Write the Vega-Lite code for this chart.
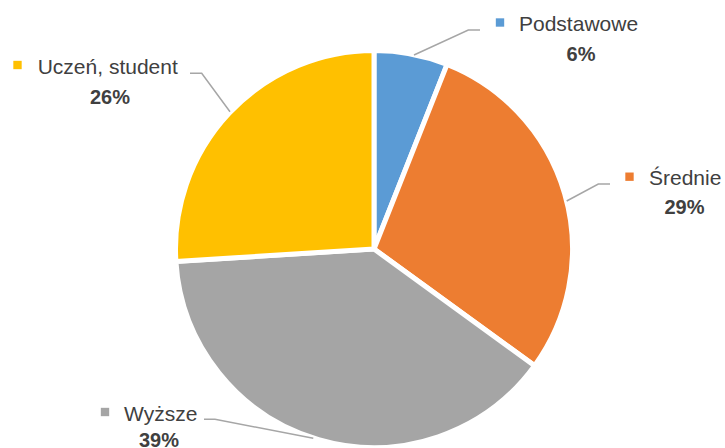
{
  "$schema": "https://vega.github.io/schema/vega-lite/v6.json",
  "width": 700,
  "height": 398,
  "autosize": {"type": "none"},
  "padding": {"left": 24, "top": 50, "right": 1, "bottom": 0},
  "background": "white",
  "config": {"view": {"stroke": null}},
  "datasets": {
    "slices": [
      {"category": "Podstawowe", "value": 6, "idx": 1},
      {"category": "Średnie", "value": 29, "idx": 2},
      {"category": "Wyższe", "value": 39, "idx": 3},
      {"category": "Uczeń, student", "value": 26, "idx": 4}
    ],
    "labels": [
      {"category": "Podstawowe", "pct": "6%", "sx": 126, "sy": 226.5, "tx": 145, "ty": 218.3, "px": 207, "py": 188.3},
      {"category": "Średnie", "pct": "29%", "sx": 255.5, "sy": 72.3, "tx": 275, "ty": 63.6, "px": 310.5, "py": 35},
      {"category": "Wyższe", "pct": "39%", "sx": -269, "sy": -163, "tx": -250, "ty": -171.7, "px": -215, "py": -197.5},
      {"category": "Uczeń, student", "pct": "26%", "sx": -356.5, "sy": 184, "tx": -336.3, "ty": 174.7, "px": -264, "py": 145}
    ],
    "leaders": [
      {"category": "Podstawowe", "seq": 1, "lx": 106, "ly": 219},
      {"category": "Podstawowe", "seq": 2, "lx": 94.3, "ly": 219},
      {"category": "Podstawowe", "seq": 3, "lx": 40, "ly": 194},
      {"category": "Średnie", "seq": 1, "lx": 236, "ly": 65},
      {"category": "Średnie", "seq": 2, "lx": 224.3, "ly": 65},
      {"category": "Średnie", "seq": 3, "lx": 192.7, "ly": 48},
      {"category": "Wyższe", "seq": 1, "lx": -170, "ly": -170.3},
      {"category": "Wyższe", "seq": 2, "lx": -159, "ly": -170.3},
      {"category": "Wyższe", "seq": 3, "lx": -60.7, "ly": -189.3},
      {"category": "Uczeń, student", "seq": 1, "lx": -184, "ly": 175.7},
      {"category": "Uczeń, student", "seq": 2, "lx": -172.3, "ly": 175.7},
      {"category": "Uczeń, student", "seq": 3, "lx": -144, "ly": 137.3}
    ]
  },
  "layer": [
    {
      "data": {"name": "slices"},
      "mark": {"type": "arc", "outerRadius": 198.5, "stroke": "white", "strokeWidth": 5},
      "encoding": {
        "theta": {"field": "value", "type": "quantitative", "stack": true},
        "order": {"field": "idx", "type": "quantitative"},
        "color": {
          "field": "category", "type": "nominal", "legend": null,
          "scale": {
            "domain": ["Podstawowe", "Średnie", "Wyższe", "Uczeń, student"],
            "range": ["#5B9BD5", "#ED7D31", "#A5A5A5", "#FFC000"]
          }
        }
      }
    },
    {
      "data": {"name": "leaders"},
      "mark": {"type": "line", "color": "#A6A6A6", "strokeWidth": 1.5},
      "encoding": {
        "x": {"field": "lx", "type": "quantitative", "axis": null, "scale": {"domain": [-350, 350], "nice": false, "zero": false}},
        "y": {"field": "ly", "type": "quantitative", "axis": null, "scale": {"domain": [-199, 199], "nice": false, "zero": false}},
        "detail": {"field": "category", "type": "nominal"},
        "order": {"field": "seq", "type": "quantitative"}
      }
    },
    {
      "data": {"name": "labels"},
      "mark": {"type": "point", "shape": "square", "filled": true, "opacity": 1, "size": 70},
      "encoding": {
        "x": {"field": "sx", "type": "quantitative", "axis": null, "scale": {"domain": [-350, 350], "nice": false, "zero": false}},
        "y": {"field": "sy", "type": "quantitative", "axis": null, "scale": {"domain": [-199, 199], "nice": false, "zero": false}},
        "color": {"field": "category", "type": "nominal", "legend": null}
      }
    },
    {
      "data": {"name": "labels"},
      "mark": {"type": "text", "align": "left", "baseline": "alphabetic", "font": "Liberation Sans", "fontSize": 21, "color": "#404040"},
      "encoding": {
        "x": {"field": "tx", "type": "quantitative", "axis": null, "scale": {"domain": [-350, 350], "nice": false, "zero": false}},
        "y": {"field": "ty", "type": "quantitative", "axis": null, "scale": {"domain": [-199, 199], "nice": false, "zero": false}},
        "text": {"field": "category", "type": "nominal"}
      }
    },
    {
      "data": {"name": "labels"},
      "mark": {"type": "text", "align": "center", "baseline": "alphabetic", "font": "Liberation Sans", "fontSize": 20, "fontWeight": "bold", "color": "#404040"},
      "encoding": {
        "x": {"field": "px", "type": "quantitative", "axis": null, "scale": {"domain": [-350, 350], "nice": false, "zero": false}},
        "y": {"field": "py", "type": "quantitative", "axis": null, "scale": {"domain": [-199, 199], "nice": false, "zero": false}},
        "text": {"field": "pct", "type": "nominal"}
      }
    }
  ]
}
